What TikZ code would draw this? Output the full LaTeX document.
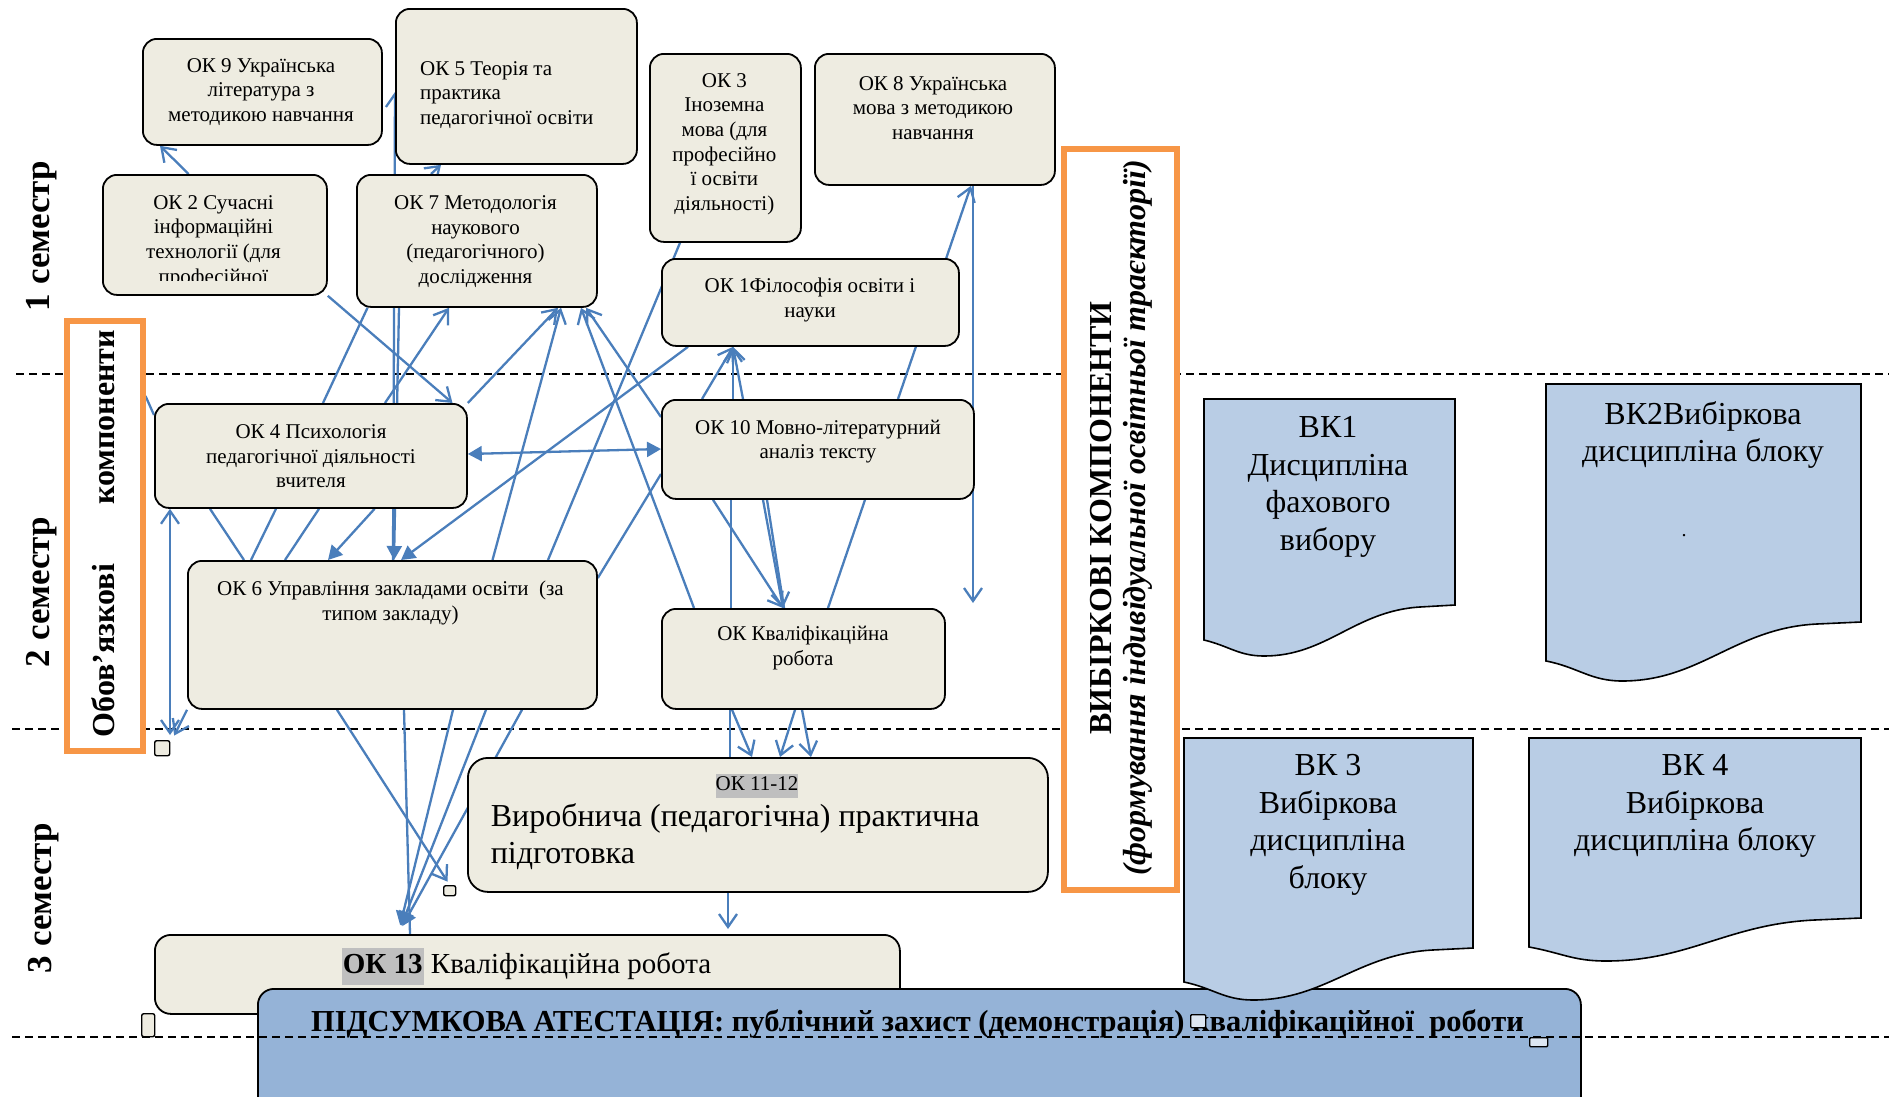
\documentclass[tikz,border=0pt]{standalone}
\usepackage{fontspec}
\setmainfont{Liberation Serif}
\usetikzlibrary{arrows.meta}
\pgfdeclarelayer{dashl}
\pgfdeclarelayer{connl}
\pgfdeclarelayer{topl}
\pgfsetlayers{dashl,connl,main,topl}
\newcommand\fsz[2]{\fontsize{#1}{#2}\selectfont}
\definecolor{boxfill}{HTML}{EEECE1}
\definecolor{arr}{HTML}{4A7EBB}
\definecolor{orng}{HTML}{F79646}
\definecolor{vkfill}{HTML}{B9CDE5}
\definecolor{pidsfill}{HTML}{95B3D7}
\definecolor{hl}{HTML}{BFBFBF}
\definecolor{sqlight}{HTML}{DCE6F2}
\newcommand\vkdoc[7]{%
  \path[vkshape] (#1,#3) -- (#2,#3) -- (#2,#4) -- ({#2-0.14*(#2-#1)},{#4+2})
    .. controls ({#2-0.4*(#2-#1)},{#4+6}) and ({#6+0.25*(#2-#1)},#7) .. (#6,#7)
    .. controls ({#6-0.1*(#2-#1)},#7) and ({#1+0.1*(#2-#1)},{#5+6}) .. (#1,#5) -- cycle;}
\begin{document}
\begin{tikzpicture}[x=1pt,y=-1pt,
  okbox/.style={draw=black,line width=1.8pt,fill=boxfill,rounded corners=14pt,inner sep=0pt,anchor=north west},
  txt/.style={inner sep=0pt,align=center,font=\fsz{21}{24.6}},
  conn/.style={draw=arr,line width=2.3pt},
  ao/.style={conn,-{Straight Barb[length=13pt,width=18pt]}},
  af/.style={conn,-{Triangle[length=14pt,width=15pt]}},
  dashline/.style={draw=black,line width=1.6pt,dash pattern=on 8pt off 5pt},
  obx/.style={draw=orng,line width=5.5pt,fill=white,inner sep=0pt,anchor=north west},
  vkshape/.style={draw=black,line width=1.6pt,fill=vkfill},
  vktxt/.style={inner sep=0pt,align=center,font=\fsz{32}{37.5}},
  semtxt/.style={rotate=90,inner sep=0pt,font=\bfseries\fsz{35}{40}},
  sqr/.style={draw=black,line width=1.4pt,fill=boxfill,rounded corners=2pt,inner sep=0pt,anchor=north west}
]
\useasboundingbox (0,0) rectangle (1889,1096);
\clip (0,0) rectangle (1889,1096);

% ---------- boxes ----------
\node[okbox,minimum width=239,minimum height=106] (ok9) at (142,38) {};
\node[okbox,minimum width=241,minimum height=155] (ok5) at (395,8) {};
\node[okbox,minimum width=224,minimum height=120] (ok2) at (102,174) {};
\node[okbox,minimum width=240,minimum height=132] (ok7) at (356,174) {};
\node[okbox,minimum width=151,minimum height=188] (ok3) at (649,53) {};
\node[okbox,minimum width=240,minimum height=131] (ok8) at (814,53) {};
\node[okbox,minimum width=297,minimum height=87] (ok1) at (661,258) {};
\node[okbox,minimum width=312,minimum height=104] (ok4) at (154,403) {};
\node[okbox,minimum width=312,minimum height=99] (ok10) at (661,399) {};
\node[okbox,minimum width=409,minimum height=148] (ok6) at (187,560) {};
\node[okbox,minimum width=283,minimum height=100] (okk) at (661,608) {};
\node[okbox,minimum width=580,minimum height=134,rounded corners=20pt] (ok1112) at (467,757) {};
\node[okbox,minimum width=745,minimum height=79,rounded corners=16pt] (ok13) at (154,934) {};

% small squares
\node[sqr,minimum width=15,minimum height=15] (sq1) at (154,740) {};
\node[sqr,minimum width=12,minimum height=10] (sq2) at (443,885) {};
\node[sqr,minimum width=13,minimum height=23] (sq3) at (141,1013) {};

% ---------- texts in boxes ----------
\node[txt] (t9) at (261,92) {ОК 9 Українська\\література з\\методикою навчання};
\node[txt,align=left,anchor=west] (t5) at (420,95) {ОК 5 Теорія та\\практика\\педагогічної освіти};
\begin{scope}
\clip (102,174) rectangle (326,280);
\node[txt] (t2) at (213.5,241.5) {ОК 2 Сучасні\\інформаційні\\технології (для\\професійної};
\end{scope}
\node[txt] (t7) at (475.5,241.5) {ОК 7 Методологія\\наукового\\(педагогічного)\\дослідження};
\node[txt] (t3) at (724.4,144) {ОК 3\\Іноземна\\мова (для\\професійно\\ї освіти\\діяльності)};
\node[txt] (t8) at (933,108) {ОК 8 Українська\\мова з методикою\\навчання};
\node[txt] (t1) at (810,300) {ОК 1Філософія освіти і\\науки};
\node[txt] (t4) at (311,456.5) {ОК 4 Психологія\\педагогічної діяльності\\вчителя};
\node[txt] (t10) at (818,441.5) {ОК 10 Мовно-літературний\\аналіз тексту};
\node[txt] (t6) at (390.5,603) {ОК 6 Управління закладами освіти\ \ (за\\типом закладу)};
\node[txt] (tk) at (803,648) {ОК Кваліфікаційна\\робота};
\node[inner sep=0pt,font=\fsz{21}{24}] (t1112a) at (757,786) {{\setlength\fboxsep{0pt}\colorbox{hl}{\strut ОК 11-12}}};
\node[inner sep=0pt,align=left,anchor=west,font=\fsz{32}{37}] (t1112b) at (490.6,837) {Виробнича (педагогічна) практична\\підготовка};
\node[inner sep=0pt,font=\fsz{29}{35}] (t13) at (526.5,966) {{\setlength\fboxsep{1pt}\colorbox{hl}{\strut\textbf{ОК 13}}} Кваліфікаційна робота};

% ---------- orange frames ----------
\node[obx,minimum width=75.6,minimum height=430] (obox) at (64.4,318) {};
\node[rotate=90,inner sep=0pt,font=\bfseries\fsz{32}{36}] (oblig) at (103.6,533.5) {\makebox[407pt]{Обов’язкові\hfill компоненти}};
\node[obx,minimum width=113,minimum height=741] (ovbox) at (1061,146) {};
\node[rotate=90,inner sep=0pt,font=\bfseries\fsz{32}{36}] (vbk) at (1101,518) {ВИБІРКОВІ КОМПОНЕНТИ};
\node[rotate=90,inner sep=0pt,font=\bfseries\itshape\fsz{32}{36}] (vbk2) at (1138,518) {(формування індивідуальної освітньої траєкторії)};

% ---------- semesters ----------
\node[semtxt] (s1) at (42,236) {1 семестр};
\node[semtxt] (s2) at (42,592) {2 семестр};
\node[semtxt] (s3) at (43.5,898) {3 семестр};

% ---------- VK documents ----------
\vkdoc{1204}{1455}{399}{605}{640}{1264}{656}
\node[vktxt] (vk1) at (1328,487) {ВК1\\Дисципліна\\фахового\\вибору};
\vkdoc{1546}{1861}{384}{622}{661}{1622}{681}
\node[vktxt] (vk2) at (1703,435) {ВК2Вибіркова\\дисципліна блоку};
\node[inner sep=0pt,font=\fsz{20}{24}] (vk2dot) at (1684,536) {.};
\vkdoc{1529}{1861}{738}{918}{947}{1606}{961}
\node[vktxt] (vk4) at (1695,806) {ВК 4\\Вибіркова\\дисципліна блоку};

% final attestation box
\node[okbox,fill=pidsfill,minimum width=1323,minimum height=200,rounded corners=16pt] (pids) at (257,988) {};
\vkdoc{1184}{1473}{738}{948}{982}{1253}{1000}
\node[vktxt] (vk3) at (1328,825) {ВК 3\\Вибіркова\\дисципліна\\блоку};
\node[inner sep=0pt,font=\bfseries\fsz{30.5}{34}] (tpids) at (917.5,1024) {ПІДСУМКОВА АТЕСТАЦІЯ: публічний захист (демонстрація) кваліфікаційної\ \ роботи};
\node[sqr,fill=sqlight,rounded corners=1pt,minimum width=15,minimum height=13] (sq4) at (1190,1014) {};
\node[sqr,fill=sqlight,rounded corners=1pt,minimum width=18,minimum height=9] (sq5) at (1529,1037) {};

% ---------- dashed semester lines ----------
\begin{pgfonlayer}{dashl}
\draw[dashline] (16,374) -- (1889,374);
\draw[dashline] (12,729) -- (1889,729);
\end{pgfonlayer}
\begin{pgfonlayer}{topl}
\draw[dashline] (12,1037) -- (1889,1037);
\end{pgfonlayer}

% ---------- connectors ----------
\begin{pgfonlayer}{connl}
\draw[ao] (188.6,0 |- ok2.north) -- (160,0 |- ok9.south);
\draw[ao] (431,0 |- ok7.north) -- (441,0 |- ok5.south);
\draw[ao] (393,0 |- ok6.north) -- (ok5.west |- 0,92);
\draw[af] (399,0 |- ok7.south) -- (394,0 |- ok6.north);
\draw[ao] (ok2.south east) -- (452.5,0 |- ok4.north);
\draw[conn] (323,0 |- ok4.north) -- (367.5,0 |- ok7.south);
\draw[ao] (385,0 |- ok4.north) -- (449,0 |- ok7.south);
\draw[ao] (ok4.north east) -- (558,0 |- ok7.south);
\draw[ao] (492.5,0 |- ok6.north) -- (561,0 |- ok7.south);
\draw[ao] (694,0 |- okk.north) -- (581,0 |- ok7.south);
\draw[ao] (ok10.west |- 0,417) -- (586,0 |- ok7.south);
\draw[af] (688,0 |- ok1.south) -- (401,0 |- ok6.north);
\draw[af] (374.6,0 |- ok4.south) -- (328,0 |- ok6.north);
\draw[conn] (210,0 |- ok4.south) -- (244,0 |- ok6.north);
\draw[conn] (276,0 |- ok4.south) -- (251,0 |- ok6.north);
\draw[conn] (319,0 |- ok4.south) -- (285,0 |- ok6.north);
\draw[conn] (548,0 |- ok6.north) -- (680,0 |- ok3.south);
\draw[conn] (ok6.east |- 0,578) -- (ok10.west |- 0,474);
\draw[conn,{Triangle[length=14pt,width=15pt]}-{Triangle[length=14pt,width=15pt]}] (ok4.east |- 0,454) -- (ok10.west |- 0,449);
\draw[ao] (702,0 |- ok10.north) -- (733,0 |- ok1.south);
\draw[ao] (733,0 |- ok10.north) -- (733,0 |- ok1.south);
\draw[ao] (743,0 |- ok10.north) -- (733,0 |- ok1.south);
\draw[ao] (898,0 |- ok10.north) -- (971,0 |- ok8.south);
\coordinate (e8) at (973,603);
\draw[ao] (973,0 |- ok8.south) -- (e8);
\draw[ao] (713,0 |- ok10.south) -- (783,0 |- okk.north);
\draw[ao] (763,0 |- ok10.south) -- (783,0 |- okk.north);
\draw[conn] (767,0 |- ok10.south) -- (784,0 |- okk.north);
\draw[conn] (731,0 |- ok10.south) -- (731,0 |- okk.north);
\draw[conn] (865,0 |- ok10.south) -- (828,0 |- okk.north);
\draw[ao,shorten >=4pt] (337,0 |- ok6.south) -- (sq2.north);
\draw[conn] (404,0 |- ok6.south) -- (410,0 |- ok13.north);
\draw[af,shorten >=9pt] (453,0 |- ok6.south) -- (398,0 |- ok13.north);
\draw[af,shorten >=9pt] (486,0 |- ok6.south) -- (398,0 |- ok13.north);
\draw[af,shorten >=9pt] (522,0 |- ok6.south) -- (398,0 |- ok13.north);
\draw[conn] (730,0 |- okk.south) -- (730,0 |- ok1112.north);
\draw[ao] (732,0 |- okk.south) -- (752,0 |- ok1112.north);
\draw[ao] (795,0 |- okk.south) -- (780,0 |- ok1112.north);
\draw[ao] (802,0 |- okk.south) -- (811,0 |- ok1112.north);
\draw[ao,shorten >=5pt] (728,0 |- ok1112.south) -- (728,0 |- ok13.north);
\draw[conn,{Straight Barb[length=13pt,width=18pt]}-{Straight Barb[length=13pt,width=18pt]},shorten >=5pt] (170,0 |- ok4.south) -- (170,0 |- sq1.north);
\draw[ao,shorten >=5pt] (ok6.south west) -- (172,0 |- sq1.north);
\draw[conn] (obox.east |- 0,396) -- ([yshift=-12pt]ok4.north west);
\end{pgfonlayer}
\end{tikzpicture}
\end{document}
